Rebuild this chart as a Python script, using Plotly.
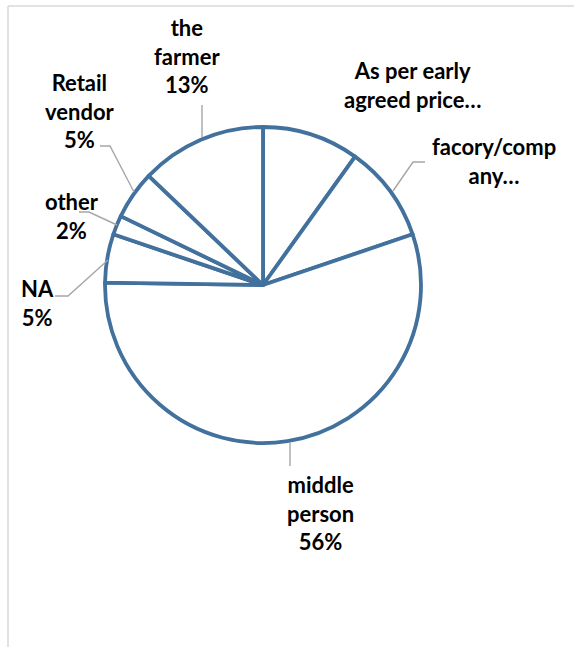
import plotly.graph_objects as go

# Who buys the produce: share of responses per buyer type
categories = [
    "As per early agreed price…",
    "facory/company…",
    "middle person",
    "NA",
    "other",
    "Retail vendor",
    "the farmer",
]
values = [10, 10, 56, 5, 2, 5, 13]

# Text shown beside each slice (lines joined with <br>)
slice_labels = [
    "As per early<br>agreed price…",
    "facory/comp<br>any…",
    "middle<br>person<br>56%",
    "NA<br>5%",
    "other<br>2%",
    "Retail<br>vendor<br>5%",
    "the<br>farmer<br>13%",
]

W, H = 574, 647
OUTLINE = "#41719C"
LEADER = "#A6A6A6"
FONT = "Lato"


def px(x, y):
    """Pixel position -> paper coordinates."""
    return x / W, 1 - y / H


# Pie geometry in pixels
cx, cy, r = 263, 285, 158
x0, y1 = px(cx - r, cy - r)
x1, y0 = px(cx + r, cy + r)

fig = go.Figure(
    go.Pie(
        labels=categories,
        values=values,
        sort=False,
        direction="clockwise",
        rotation=0,
        textinfo="none",
        hoverinfo="label+percent",
        marker=dict(colors=["white"] * len(values), line=dict(color=OUTLINE, width=3.8)),
        domain=dict(x=[x0, x1], y=[y0, y1]),
        showlegend=False,
    )
)

# Label anchor points (pixel centres) and leader polylines
label_pos = [(412, 85), (494, 161), (320, 513), (37, 303), (72, 216), (80, 111), (187, 56)]
leaders = [
    None,
    [(425, 162), (413, 162), (393, 191)],
    [(290, 442), (290, 466)],
    [(55, 296), (68, 296), (108, 260)],
    [(79, 212), (89, 212), (117, 225)],
    [(100, 146), (110, 146), (134, 192)],
    [(202, 105), (202, 137)],
]

annotations = []
for text, (lx, ly) in zip(slice_labels, label_pos):
    ax_, ay_ = px(lx, ly)
    annotations.append(
        dict(
            text=text, x=ax_, y=ay_, xref="paper", yref="paper",
            xanchor="center", yanchor="middle", showarrow=False, align="center",
            font=dict(family=FONT, size=22, color="black", weight="bold"),
        )
    )

shapes = []
for pts in leaders:
    if not pts:
        continue
    path = ""
    for i, (lx, ly) in enumerate(pts):
        qx, qy = px(lx, ly)
        path += ("M" if i == 0 else "L") + f"{qx},{qy} "
    shapes.append(dict(type="path", path=path.strip(), xref="paper", yref="paper",
                       line=dict(color=LEADER, width=1.4)))

# Chart-area frame (left and top edges visible)
bx, by = px(8, 6)
shapes.append(dict(type="line", xref="paper", yref="paper", x0=bx, x1=bx, y0=0, y1=by,
                   line=dict(color="#D9D9D9", width=1.5)))
shapes.append(dict(type="line", xref="paper", yref="paper", x0=bx, x1=1.01, y0=by, y1=by,
                   line=dict(color="#D9D9D9", width=1.5)))

fig.update_layout(
    width=W, height=H,
    margin=dict(l=0, r=0, t=0, b=0),
    paper_bgcolor="white", plot_bgcolor="white",
    annotations=annotations, shapes=shapes,
)

fig.write_html("out.html")
